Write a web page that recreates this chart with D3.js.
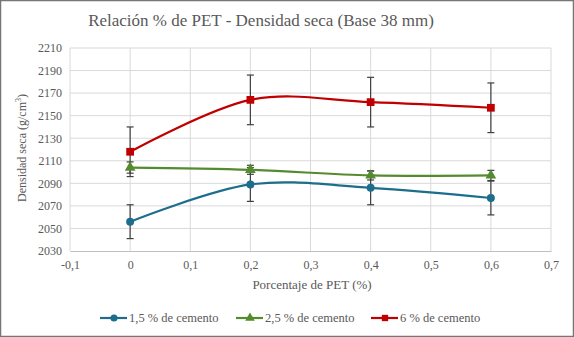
<!DOCTYPE html>
<html>
<head>
<meta charset="utf-8">
<script src="https://cdn.jsdelivr.net/npm/d3@7"></script>
<style>
  body { margin: 0; background: #fff; }
  svg text { font-family: 'Liberation Serif', 'Times New Roman', 'DejaVu Serif', serif !important; fill: #595959; }
</style>
</head>
<body>
<div id="chart"></div>
<script>
// data
const pet = [0, 0.2, 0.4, 0.6];
const series = ["1,5 % de cemento", "2,5 % de cemento", "6 % de cemento"];
const dens15 = [2056, 2089, 2086, 2077];
const dens25 = [2104, 2102, 2097, 2097];
const dens6 = [2118, 2164, 2162, 2157];
const err15 = [15, 15, 15, 15];
const err25 = [5, 4, 4, 4.5];
const err6 = [22, 22, 22, 22];
const xTicks = [-0.1, 0, 0.1, 0.2, 0.3, 0.4, 0.5, 0.6, 0.7];
const yTicks = [2030, 2050, 2070, 2090, 2110, 2130, 2150, 2170, 2190, 2210];

const W = 574, H = 337;
const margin = { top: 48, right: 23, bottom: 86, left: 70 };
const width = W - margin.left - margin.right;
const height = H - margin.top - margin.bottom;

const svg = d3.select('#chart')
    .append('svg')
    .attr('width', W)
    .attr('height', H)
    .attr('font-family', "'Liberation Serif', serif");

// outer frame
svg.append('rect')
    .attr('x', 0.5).attr('y', 0.5)
    .attr('width', W - 1).attr('height', H - 1)
    .attr('fill', 'none')
    .attr('stroke', '#767676')
    .attr('stroke-width', 1.5);

const g = svg.append('g')
    .attr('transform', `translate(${margin.left},${margin.top})`);

const x = d3.scaleLinear().domain([-0.1, 0.7]).range([0, width]);
const y = d3.scaleLinear().domain([2030, 2210]).range([height, 0]);

// grid
g.append('g')
    .selectAll('line')
    .data(yTicks.slice(1))
    .join('line')
    .attr('x1', 0).attr('x2', width)
    .attr('y1', d => y(d)).attr('y2', d => y(d))
    .attr('stroke', '#d9d9d9');

g.append('g')
    .selectAll('line')
    .data(xTicks)
    .join('line')
    .attr('x1', d => x(d)).attr('x2', d => x(d))
    .attr('y1', 0).attr('y2', height)
    .attr('stroke', '#d9d9d9');

// axes
const xAxis = d3.axisBottom(x).tickValues(xTicks).tickSize(0).tickPadding(9)
    .tickFormat(d => String(d).replace('.', ','));
const yAxis = d3.axisLeft(y).tickValues(yTicks).tickSize(0).tickPadding(8)
    .tickFormat(d3.format('d'));

g.append('g')
    .attr('transform', `translate(0,${height})`)
    .call(xAxis)
    .attr('font-family', null)
    .call(a => a.select('.domain').attr('stroke', '#bfbfbf'))
    .selectAll('text').style('font-size', '12px').attr('fill', '#595959');

g.append('g')
    .call(yAxis)
    .attr('font-family', null)
    .call(a => a.select('.domain').remove())
    .selectAll('text').style('font-size', '12px').attr('fill', '#595959');

// series
const colors = ['#1c6e8c', '#558b2f', '#c00000'];
const allSeries = [
    { name: series[0], vals: dens15, err: err15, shape: d3.symbolCircle },
    { name: series[1], vals: dens25, err: err25, shape: d3.symbolTriangle },
    { name: series[2], vals: dens6, err: err6, shape: d3.symbolSquare }
];

const line = d3.line()
    .x(d => x(d[0]))
    .y(d => y(d[1]))
    .curve(d3.curveCatmullRom.alpha(0));

allSeries.forEach((s, i) => {
    const pts = pet.map((p, j) => [p, s.vals[j]]);
    g.append('path')
        .datum(pts)
        .attr('d', line)
        .attr('fill', 'none')
        .attr('stroke', colors[i])
        .attr('stroke-width', 2.2);
});

// error bars
allSeries.forEach(s => {
    const eb = g.append('g').attr('stroke', '#404040').attr('stroke-width', 1.2);
    pet.forEach((p, j) => {
        const cx = x(p), lo = y(s.vals[j] - s.err[j]), hi = y(s.vals[j] + s.err[j]);
        eb.append('line').attr('x1', cx).attr('x2', cx).attr('y1', lo).attr('y2', hi);
        eb.append('line').attr('x1', cx - 3.5).attr('x2', cx + 3.5).attr('y1', lo).attr('y2', lo);
        eb.append('line').attr('x1', cx - 3.5).attr('x2', cx + 3.5).attr('y1', hi).attr('y2', hi);
    });
});

// markers
allSeries.forEach((s, i) => {
    g.append('g')
        .selectAll('path')
        .data(pet.map((p, j) => [p, s.vals[j]]))
        .join('path')
        .attr('transform', d => `translate(${x(d[0])},${y(d[1])})`)
        .attr('d', d3.symbol().type(s.shape).size(i == 2 ? 60 : 50))
        .attr('fill', colors[i]);
});

// title and axis labels
svg.append('text')
    .attr('x', 261)
    .attr('y', 26)
    .attr('text-anchor', 'middle')
    .style('font-size', '17px')
    .text('Relación % de PET - Densidad seca (Base 38 mm)');

svg.append('text')
    .attr('x', 312)
    .attr('y', 289)
    .attr('text-anchor', 'middle')
    .style('font-size', '13px')
    .text('Porcentaje de PET  (%)');

const yl = svg.append('text')
    .attr('transform', `translate(26,148) rotate(-90)`)
    .attr('text-anchor', 'middle')
    .style('font-size', '12px');
yl.append('tspan').text('Densidad seca (g/cm');
yl.append('tspan').attr('dy', -5).style('font-size', '8px').text('3');
yl.append('tspan').attr('dy', 5).text(')');

// legend
const legX = [100, 236, 371];
allSeries.forEach((s, i) => {
    const lg = svg.append('g').attr('transform', `translate(${legX[i]},318)`);
    lg.append('line').attr('x1', 0).attr('x2', 27).attr('y1', 0).attr('y2', 0)
        .attr('stroke', colors[i]).attr('stroke-width', 2.2);
    lg.append('path').attr('transform', 'translate(14,0)')
        .attr('d', d3.symbol().type(s.shape).size(40)).attr('fill', colors[i]);
    lg.append('text').attr('x', 29).attr('y', 4).style('font-size', '12.5px').text(s.name);
});
</script>
</body>
</html>
